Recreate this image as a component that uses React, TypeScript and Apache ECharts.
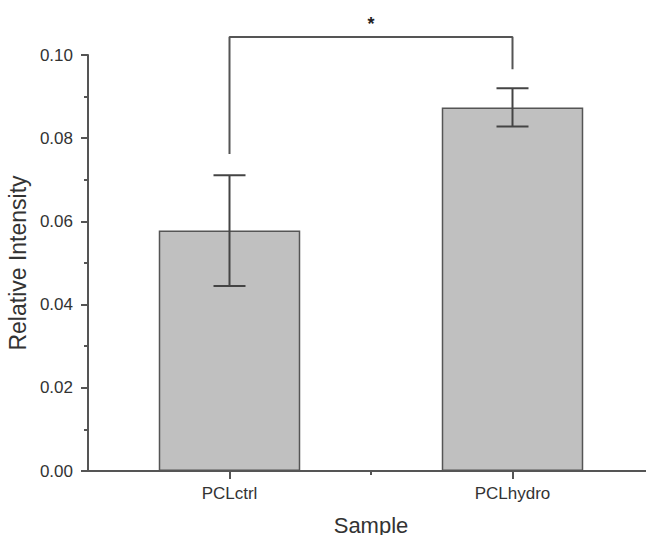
import React, { useEffect, useRef } from "react";
import * as echarts from "echarts";

// Sample groups and measured relative intensity (mean ± SD)
const categories = ["PCLctrl", "PCLhydro"];
const means = [0.0578, 0.0874];
const sds = [0.0133, 0.0046];

// y-axis ticks
const yMin = 0;
const yMax = 0.1;
const yInterval = 0.02;

// Significance bracket: heights of left leg end, top bar, right leg end
const bracketLeftEnd = 0.0762;
const bracketTop = 0.1043;
const bracketRightEnd = 0.0966;
const significanceMark = "*";

const FONT = "'Liberation Sans', Arial, Helvetica, sans-serif";
const AXIS_COLOR = "#555555";
const TEXT_COLOR = "#333333";

export default function App() {
  const ref = useRef<HTMLDivElement>(null);

  useEffect(() => {
    document.body.style.margin = "0";
    if (!ref.current) return;
    const chart = echarts.init(ref.current, undefined, { renderer: "svg" });

    const errorData = categories.map((_, i) => [i, means[i] - sds[i], means[i] + sds[i]]);

    chart.setOption({
      animation: false,
      backgroundColor: "#ffffff",
      textStyle: { fontFamily: FONT },
      grid: { left: 88, top: 55, bottom: 64, right: -8, outerBoundsMode: "none" },
      xAxis: {
        type: "category",
        data: categories,
        boundaryGap: true,
        name: "Sample",
        nameLocation: "middle",
        nameGap: 43,
        nameTextStyle: { fontSize: 22, color: TEXT_COLOR, fontFamily: FONT },
        axisLine: { show: true, lineStyle: { color: AXIS_COLOR, width: 2 } },
        axisTick: { show: true, alignWithLabel: true, length: 8, lineStyle: { color: AXIS_COLOR, width: 2 } },
        axisLabel: { fontSize: 17, color: TEXT_COLOR, margin: 14, fontFamily: FONT },
        splitLine: { show: false },
      },
      yAxis: {
        type: "value",
        min: yMin,
        max: yMax,
        interval: yInterval,
        name: "Relative Intensity",
        nameLocation: "middle",
        nameGap: 53,
        nameTextStyle: { fontSize: 23, color: TEXT_COLOR, fontFamily: FONT },
        axisLine: { show: true, lineStyle: { color: AXIS_COLOR, width: 2 } },
        axisTick: { show: true, inside: false, length: 7, lineStyle: { color: AXIS_COLOR, width: 2 } },
        minorTick: { show: true, splitNumber: 2, length: 4, lineStyle: { color: AXIS_COLOR, width: 2 } },
        axisLabel: {
          fontSize: 17,
          color: TEXT_COLOR,
          margin: 15,
          fontFamily: FONT,
          formatter: (v: number) => v.toFixed(2),
        },
        splitLine: { show: false },
      },
      series: [
        {
          type: "bar",
          data: means,
          barWidth: "50%",
          itemStyle: { color: "#c0c0c0", borderColor: AXIS_COLOR, borderWidth: 1.5 },
          z: 2,
        },
        {
          // error bars (mean ± SD) with caps
          type: "custom",
          data: errorData,
          encode: { x: 0, y: [1, 2] },
          z: 3,
          renderItem: (_params: any, api: any) => {
            const x = api.value(0);
            const lo = api.coord([x, api.value(1)]);
            const hi = api.coord([x, api.value(2)]);
            const half = 16;
            const style = { stroke: "#444444", lineWidth: 2 };
            return {
              type: "group",
              children: [
                { type: "line", shape: { x1: hi[0], y1: hi[1], x2: lo[0], y2: lo[1] }, style },
                { type: "line", shape: { x1: hi[0] - half, y1: hi[1], x2: hi[0] + half, y2: hi[1] }, style },
                { type: "line", shape: { x1: lo[0] - half, y1: lo[1], x2: lo[0] + half, y2: lo[1] }, style },
              ],
            };
          },
        },
        {
          // significance bracket between the two groups
          type: "line",
          data: [
            [0, bracketLeftEnd],
            [0, bracketTop],
            [1, bracketTop],
            [1, bracketRightEnd],
          ],
          clip: false,
          symbol: "none",
          lineStyle: { color: AXIS_COLOR, width: 2 },
          silent: true,
          z: 4,
        },
        {
          // asterisk above the bracket and the short tick between categories
          type: "custom",
          data: [[0, bracketTop]],
          encode: { x: 0, y: 1 },
          clip: false,
          z: 5,
          renderItem: (_params: any, api: any) => {
            const p0 = api.coord([0, api.value(1)]);
            const p1 = api.coord([1, api.value(1)]);
            const base0 = api.coord([0, 0]);
            const midX = (p0[0] + p1[0]) / 2;
            return {
              type: "group",
              children: [
                {
                  type: "text",
                  x: midX,
                  y: p0[1] - 13,
                  style: {
                    text: significanceMark,
                    fontSize: 18,
                    fontFamily: FONT,
                    fontWeight: "bold",
                    fill: "#222222",
                    align: "center",
                    verticalAlign: "middle",
                  },
                },
                {
                  type: "line",
                  shape: { x1: midX, y1: base0[1], x2: midX, y2: base0[1] + 4 },
                  style: { stroke: AXIS_COLOR, lineWidth: 2 },
                },
              ],
            };
          },
        },
      ],
    });

    return () => chart.dispose();
  }, []);

  return <div ref={ref} style={{ width: 646, height: 535 }} />;
}
